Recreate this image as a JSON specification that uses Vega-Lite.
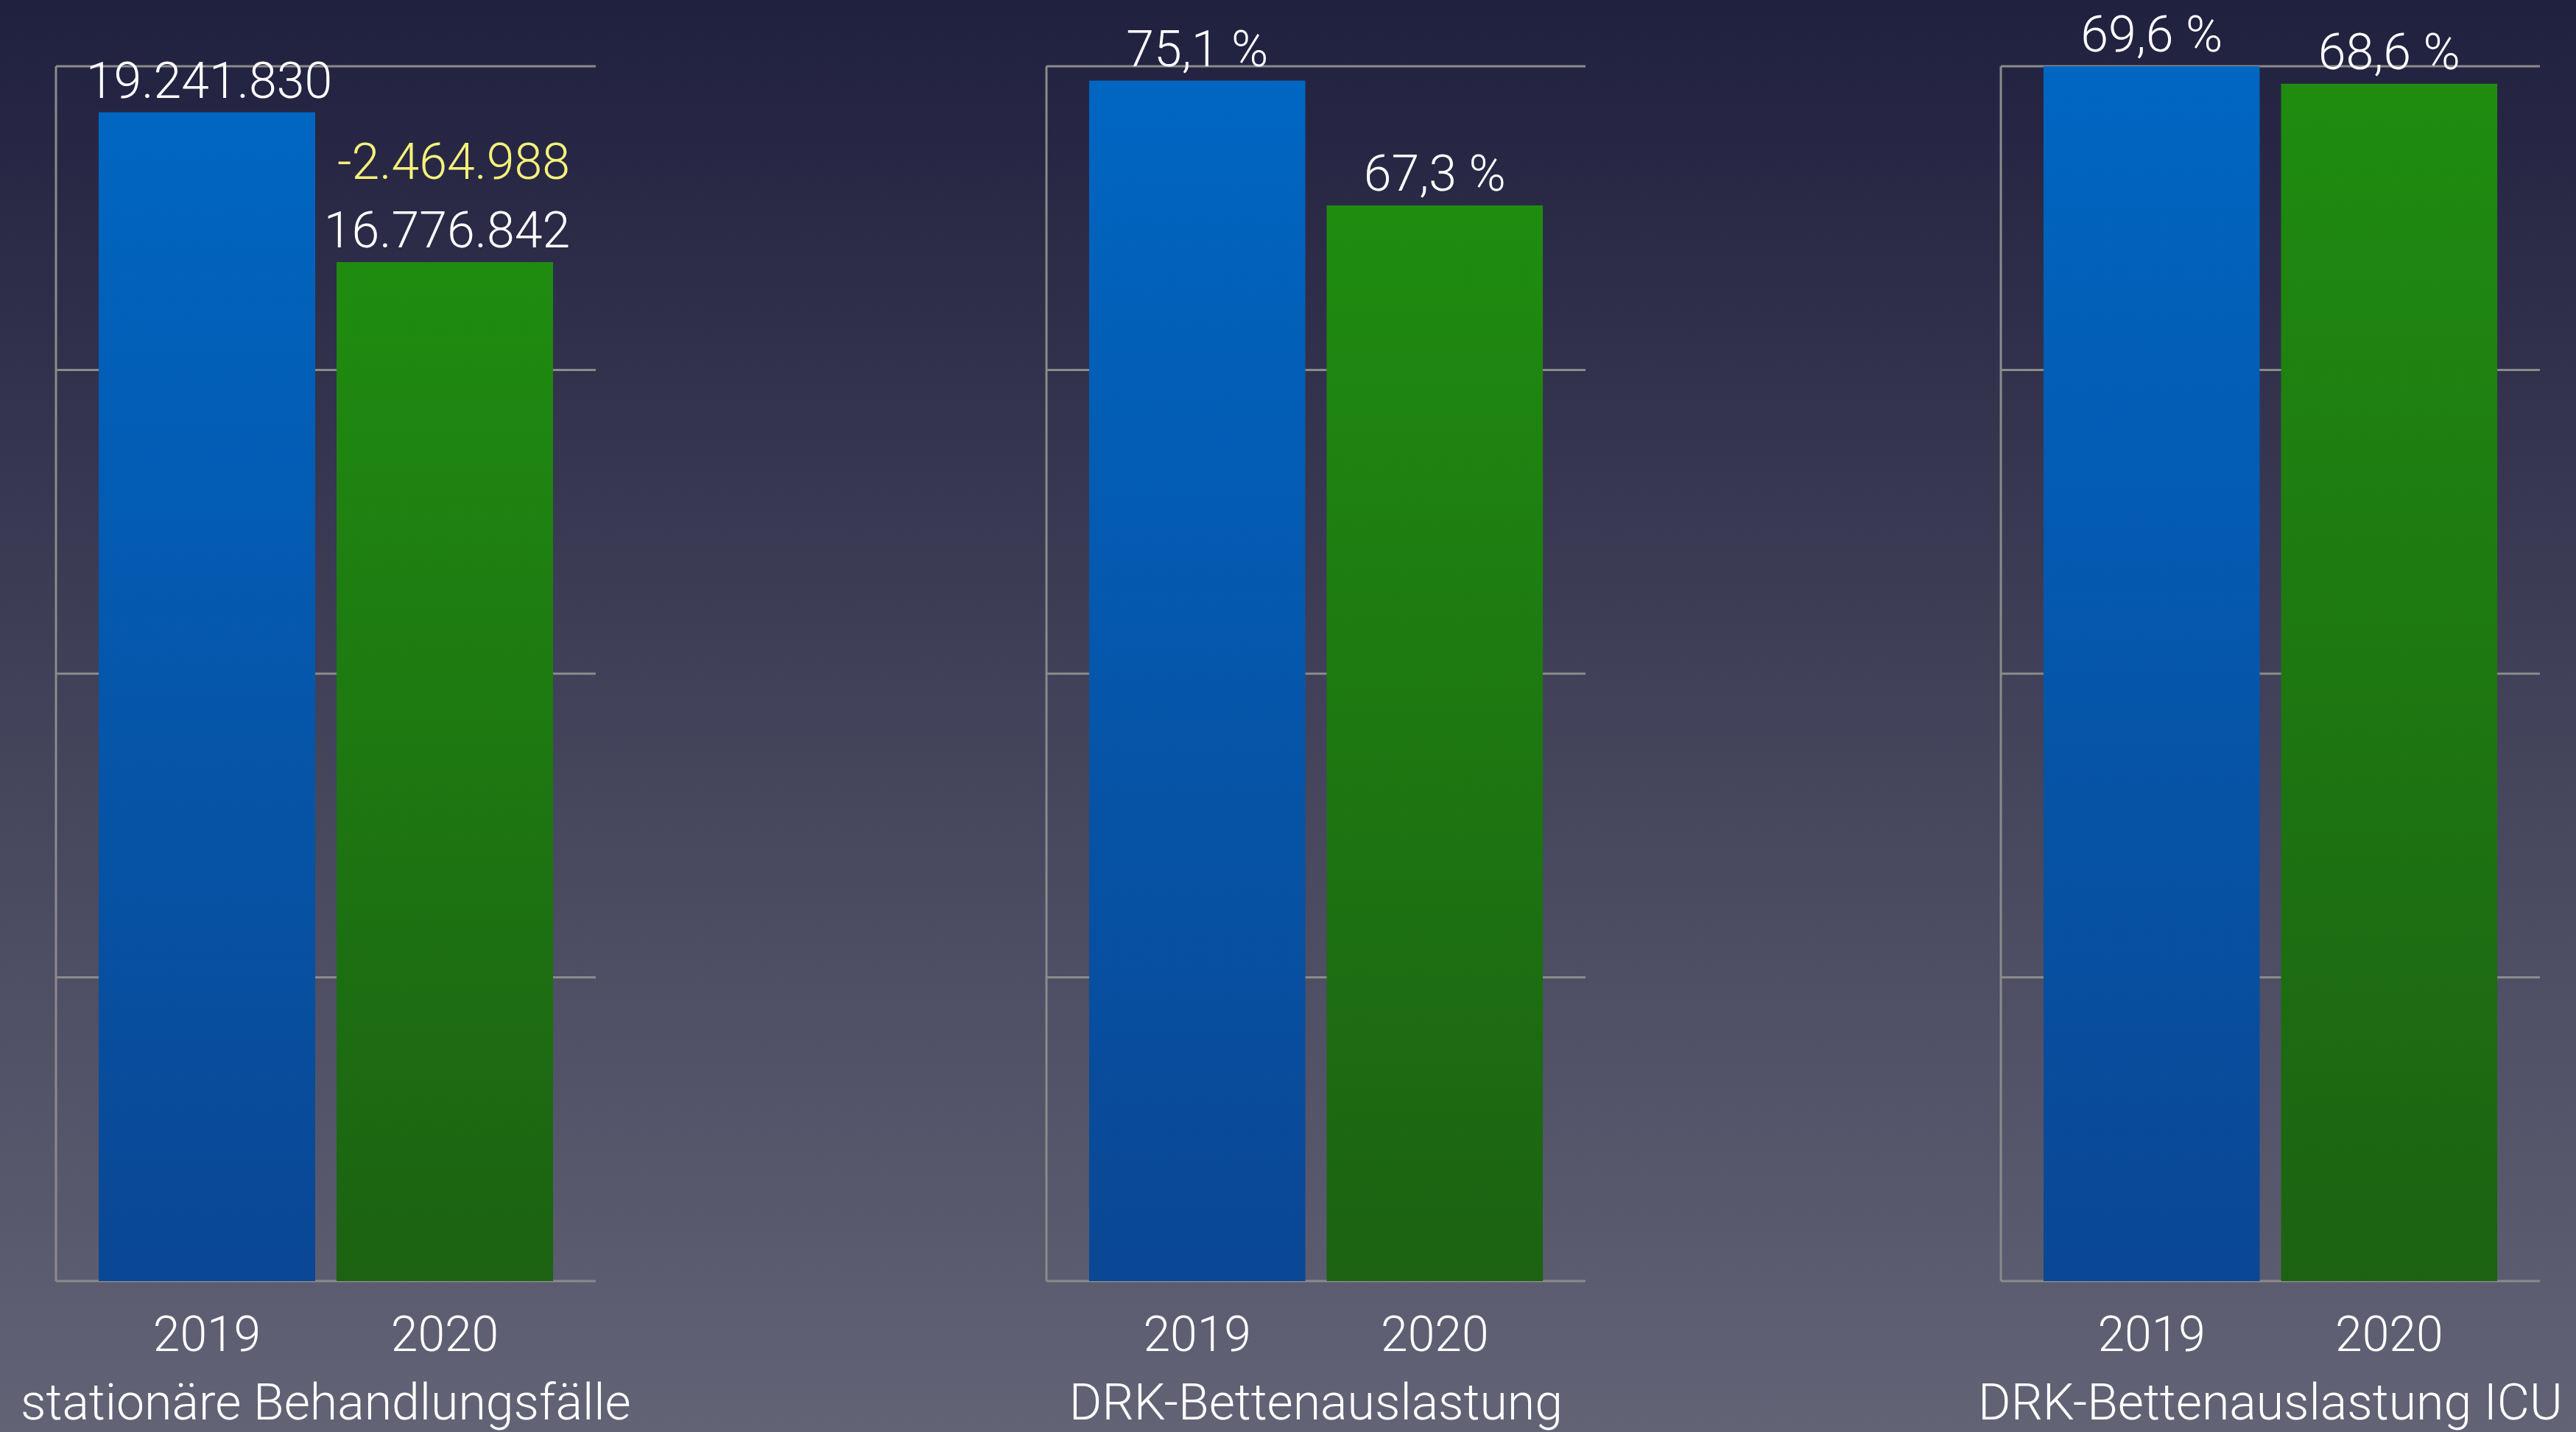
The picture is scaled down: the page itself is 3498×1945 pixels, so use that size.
{
  "$schema": "https://vega.github.io/schema/vega-lite/v6.json",
  "width": 3498,
  "height": 1945,
  "padding": 0,
  "autosize": {"type": "none"},
  "background": "#41415a",
  "config": {
    "view": {
      "stroke": null,
      "fill": {"gradient": "linear", "x1": 0, "y1": 0, "x2": 0, "y2": 1,
        "stops": [{"offset": 0, "color": "#20203f"}, {"offset": 0.5, "color": "#42425a"}, {"offset": 1, "color": "#636376"}]}
    },
    "text": {"font": "Roboto", "fontWeight": 300, "color": "#ffffff"}
  },
  "datasets": {
    "bars": [
      {"panel": "stationäre Behandlungsfälle", "year": "2019", "value": 19241830, "label": "19.241.830"},
      {"panel": "stationäre Behandlungsfälle", "year": "2020", "value": 16776842, "label": "16.776.842", "delta": "-2.464.988"},
      {"panel": "DRK-Bettenauslastung", "year": "2019", "value": 75.1, "label": "75,1 %"},
      {"panel": "DRK-Bettenauslastung", "year": "2020", "value": 67.3, "label": "67,3 %"},
      {"panel": "DRK-Bettenauslastung ICU", "year": "2019", "value": 69.6, "label": "69,6 %"},
      {"panel": "DRK-Bettenauslastung ICU", "year": "2020", "value": 68.6, "label": "68,6 %"}
    ],
    "grid": [
      {"panel": "stationäre Behandlungsfälle", "tick": 0},
      {"panel": "stationäre Behandlungsfälle", "tick": 5000000},
      {"panel": "stationäre Behandlungsfälle", "tick": 10000000},
      {"panel": "stationäre Behandlungsfälle", "tick": 15000000},
      {"panel": "stationäre Behandlungsfälle", "tick": 20000000},
      {"panel": "DRK-Bettenauslastung", "tick": 0},
      {"panel": "DRK-Bettenauslastung", "tick": 19},
      {"panel": "DRK-Bettenauslastung", "tick": 38},
      {"panel": "DRK-Bettenauslastung", "tick": 57},
      {"panel": "DRK-Bettenauslastung", "tick": 76},
      {"panel": "DRK-Bettenauslastung ICU", "tick": 0},
      {"panel": "DRK-Bettenauslastung ICU", "tick": 17.4},
      {"panel": "DRK-Bettenauslastung ICU", "tick": 34.8},
      {"panel": "DRK-Bettenauslastung ICU", "tick": 52.2},
      {"panel": "DRK-Bettenauslastung ICU", "tick": 69.6}
    ]
  },
  "resolve": {"scale": {"x": "independent", "y": "independent"}},
  "layer": [
    {
      "layer": [
        {
          "data": {"name": "grid"},
          "transform": [{"filter": "datum.panel === 'stationäre Behandlungsfälle'"}],
          "mark": {"type": "rule", "stroke": "#8b8b8b", "strokeWidth": 3},
          "encoding": {
            "x": {"datum": "2019", "type": "nominal", "bandPosition": -0.1973, "axis": null,
              "scale": {"domain": ["2019", "2020"], "range": [76, 809], "paddingInner": 0.0898, "paddingOuter": 0.1796}},
            "x2": {"datum": "2020", "bandPosition": 1.1973},
            "y": {"field": "tick", "type": "quantitative", "axis": null,
              "scale": {"domain": [0, 20000000], "range": [1740, 90], "nice": false, "zero": true}}
          }
        },
        {
          "data": {"name": "bars"},
          "transform": [{"filter": "datum.panel === 'stationäre Behandlungsfälle' && datum.year === '2019'"}],
          "mark": {"type": "rule", "stroke": "#8b8b8b", "strokeWidth": 3},
          "encoding": {
            "x": {"datum": "2019", "type": "nominal", "bandPosition": -0.1973, "axis": null},
            "y": {"datum": 0, "type": "quantitative", "axis": null},
            "y2": {"datum": 20000000}
          }
        },
        {
          "data": {"name": "bars"},
          "transform": [{"filter": "datum.panel === 'stationäre Behandlungsfälle'"}],
          "mark": {"type": "bar"},
          "encoding": {
            "x": {"field": "year", "type": "nominal", "axis": null},
            "y": {"field": "value", "type": "quantitative", "axis": null},
            "y2": {"datum": 0},
            "color": {
              "condition": {"test": "datum.year === '2019'", "value": {"gradient": "linear", "x1": 0, "y1": 0, "x2": 0, "y2": 1, "stops": [{"offset": 0, "color": "#0066c2"}, {"offset": 1, "color": "#0a4794"}]}},
              "value": {"gradient": "linear", "x1": 0, "y1": 0, "x2": 0, "y2": 1, "stops": [{"offset": 0, "color": "#1f8c10"}, {"offset": 1, "color": "#1c6212"}]}
            }
          }
        },
        {
          "data": {"name": "bars"},
          "transform": [{"filter": "datum.panel === 'stationäre Behandlungsfälle'"}],
          "mark": {"type": "text", "fontSize": 68, "baseline": "alphabetic", "dy": -20, "dx": 3},
          "encoding": {
            "x": {"field": "year", "type": "nominal", "axis": null},
            "y": {"field": "value", "type": "quantitative", "axis": null},
            "text": {"field": "label"}
          }
        },
        {
          "data": {"name": "bars"},
          "transform": [{"filter": "datum.panel === 'stationäre Behandlungsfälle' && isValid(datum.delta)"}],
          "mark": {"type": "text", "fontSize": 68, "baseline": "alphabetic", "dy": -113, "dx": 12, "color": "#f6f27a"},
          "encoding": {
            "x": {"field": "year", "type": "nominal", "axis": null},
            "y": {"field": "value", "type": "quantitative", "axis": null},
            "text": {"field": "delta"}
          }
        },
        {
          "data": {"name": "bars"},
          "transform": [{"filter": "datum.panel === 'stationäre Behandlungsfälle'"}],
          "mark": {"type": "text", "fontSize": 66, "baseline": "alphabetic", "dy": 95},
          "encoding": {
            "x": {"field": "year", "type": "nominal", "axis": null},
            "y": {"datum": 0, "type": "quantitative", "axis": null},
            "text": {"field": "year"}
          }
        },
        {
          "data": {"name": "bars"},
          "transform": [{"filter": "datum.panel === 'stationäre Behandlungsfälle' && datum.year === '2019'"}],
          "mark": {"type": "text", "fontSize": 68, "baseline": "alphabetic", "dy": 188},
          "encoding": {
            "x": {"datum": "2019", "type": "nominal", "bandPosition": 1.049, "axis": null},
            "y": {"datum": 0, "type": "quantitative", "axis": null},
            "text": {"field": "panel"}
          }
        }
      ]
    },
    {
      "layer": [
        {
          "data": {"name": "grid"},
          "transform": [{"filter": "datum.panel === 'DRK-Bettenauslastung'"}],
          "mark": {"type": "rule", "stroke": "#8b8b8b", "strokeWidth": 3},
          "encoding": {
            "x": {"datum": "2019", "type": "nominal", "bandPosition": -0.1973, "axis": null,
              "scale": {"domain": ["2019", "2020"], "range": [1421, 2153], "paddingInner": 0.0898, "paddingOuter": 0.1796}},
            "x2": {"datum": "2020", "bandPosition": 1.1973},
            "y": {"field": "tick", "type": "quantitative", "axis": null,
              "scale": {"domain": [0, 76], "range": [1740, 90], "nice": false, "zero": true}}
          }
        },
        {
          "data": {"name": "bars"},
          "transform": [{"filter": "datum.panel === 'DRK-Bettenauslastung' && datum.year === '2019'"}],
          "mark": {"type": "rule", "stroke": "#8b8b8b", "strokeWidth": 3},
          "encoding": {
            "x": {"datum": "2019", "type": "nominal", "bandPosition": -0.1973, "axis": null},
            "y": {"datum": 0, "type": "quantitative", "axis": null},
            "y2": {"datum": 76}
          }
        },
        {
          "data": {"name": "bars"},
          "transform": [{"filter": "datum.panel === 'DRK-Bettenauslastung'"}],
          "mark": {"type": "bar"},
          "encoding": {
            "x": {"field": "year", "type": "nominal", "axis": null},
            "y": {"field": "value", "type": "quantitative", "axis": null},
            "y2": {"datum": 0},
            "color": {
              "condition": {"test": "datum.year === '2019'", "value": {"gradient": "linear", "x1": 0, "y1": 0, "x2": 0, "y2": 1, "stops": [{"offset": 0, "color": "#0066c2"}, {"offset": 1, "color": "#0a4794"}]}},
              "value": {"gradient": "linear", "x1": 0, "y1": 0, "x2": 0, "y2": 1, "stops": [{"offset": 0, "color": "#1f8c10"}, {"offset": 1, "color": "#1c6212"}]}
            }
          }
        },
        {
          "data": {"name": "bars"},
          "transform": [{"filter": "datum.panel === 'DRK-Bettenauslastung'"}],
          "mark": {"type": "text", "fontSize": 68, "baseline": "alphabetic", "dy": -20},
          "encoding": {
            "x": {"field": "year", "type": "nominal", "axis": null},
            "y": {"field": "value", "type": "quantitative", "axis": null},
            "text": {"field": "label"}
          }
        },
        {
          "data": {"name": "bars"},
          "transform": [{"filter": "datum.panel === 'DRK-Bettenauslastung'"}],
          "mark": {"type": "text", "fontSize": 66, "baseline": "alphabetic", "dy": 95},
          "encoding": {
            "x": {"field": "year", "type": "nominal", "axis": null},
            "y": {"datum": 0, "type": "quantitative", "axis": null},
            "text": {"field": "year"}
          }
        },
        {
          "data": {"name": "bars"},
          "transform": [{"filter": "datum.panel === 'DRK-Bettenauslastung' && datum.year === '2019'"}],
          "mark": {"type": "text", "fontSize": 68, "baseline": "alphabetic", "dy": 188},
          "encoding": {
            "x": {"datum": "2019", "type": "nominal", "bandPosition": 1.049, "axis": null},
            "y": {"datum": 0, "type": "quantitative", "axis": null},
            "text": {"field": "panel"}
          }
        }
      ]
    },
    {
      "layer": [
        {
          "data": {"name": "grid"},
          "transform": [{"filter": "datum.panel === 'DRK-Bettenauslastung ICU'"}],
          "mark": {"type": "rule", "stroke": "#8b8b8b", "strokeWidth": 3},
          "encoding": {
            "x": {"datum": "2019", "type": "nominal", "bandPosition": -0.1973, "axis": null,
              "scale": {"domain": ["2019", "2020"], "range": [2717, 3449], "paddingInner": 0.0898, "paddingOuter": 0.1796}},
            "x2": {"datum": "2020", "bandPosition": 1.1973},
            "y": {"field": "tick", "type": "quantitative", "axis": null,
              "scale": {"domain": [0, 69.6], "range": [1740, 90], "nice": false, "zero": true}}
          }
        },
        {
          "data": {"name": "bars"},
          "transform": [{"filter": "datum.panel === 'DRK-Bettenauslastung ICU' && datum.year === '2019'"}],
          "mark": {"type": "rule", "stroke": "#8b8b8b", "strokeWidth": 3},
          "encoding": {
            "x": {"datum": "2019", "type": "nominal", "bandPosition": -0.1973, "axis": null},
            "y": {"datum": 0, "type": "quantitative", "axis": null},
            "y2": {"datum": 69.6}
          }
        },
        {
          "data": {"name": "bars"},
          "transform": [{"filter": "datum.panel === 'DRK-Bettenauslastung ICU'"}],
          "mark": {"type": "bar"},
          "encoding": {
            "x": {"field": "year", "type": "nominal", "axis": null},
            "y": {"field": "value", "type": "quantitative", "axis": null},
            "y2": {"datum": 0},
            "color": {
              "condition": {"test": "datum.year === '2019'", "value": {"gradient": "linear", "x1": 0, "y1": 0, "x2": 0, "y2": 1, "stops": [{"offset": 0, "color": "#0066c2"}, {"offset": 1, "color": "#0a4794"}]}},
              "value": {"gradient": "linear", "x1": 0, "y1": 0, "x2": 0, "y2": 1, "stops": [{"offset": 0, "color": "#1f8c10"}, {"offset": 1, "color": "#1c6212"}]}
            }
          }
        },
        {
          "data": {"name": "bars"},
          "transform": [{"filter": "datum.panel === 'DRK-Bettenauslastung ICU'"}],
          "mark": {"type": "text", "fontSize": 68, "baseline": "alphabetic", "dy": -20},
          "encoding": {
            "x": {"field": "year", "type": "nominal", "axis": null},
            "y": {"field": "value", "type": "quantitative", "axis": null},
            "text": {"field": "label"}
          }
        },
        {
          "data": {"name": "bars"},
          "transform": [{"filter": "datum.panel === 'DRK-Bettenauslastung ICU'"}],
          "mark": {"type": "text", "fontSize": 66, "baseline": "alphabetic", "dy": 95},
          "encoding": {
            "x": {"field": "year", "type": "nominal", "axis": null},
            "y": {"datum": 0, "type": "quantitative", "axis": null},
            "text": {"field": "year"}
          }
        },
        {
          "data": {"name": "bars"},
          "transform": [{"filter": "datum.panel === 'DRK-Bettenauslastung ICU' && datum.year === '2019'"}],
          "mark": {"type": "text", "fontSize": 68, "baseline": "alphabetic", "dy": 188},
          "encoding": {
            "x": {"datum": "2019", "type": "nominal", "bandPosition": 1.049, "axis": null},
            "y": {"datum": 0, "type": "quantitative", "axis": null},
            "text": {"field": "panel"}
          }
        }
      ]
    }
  ]
}
